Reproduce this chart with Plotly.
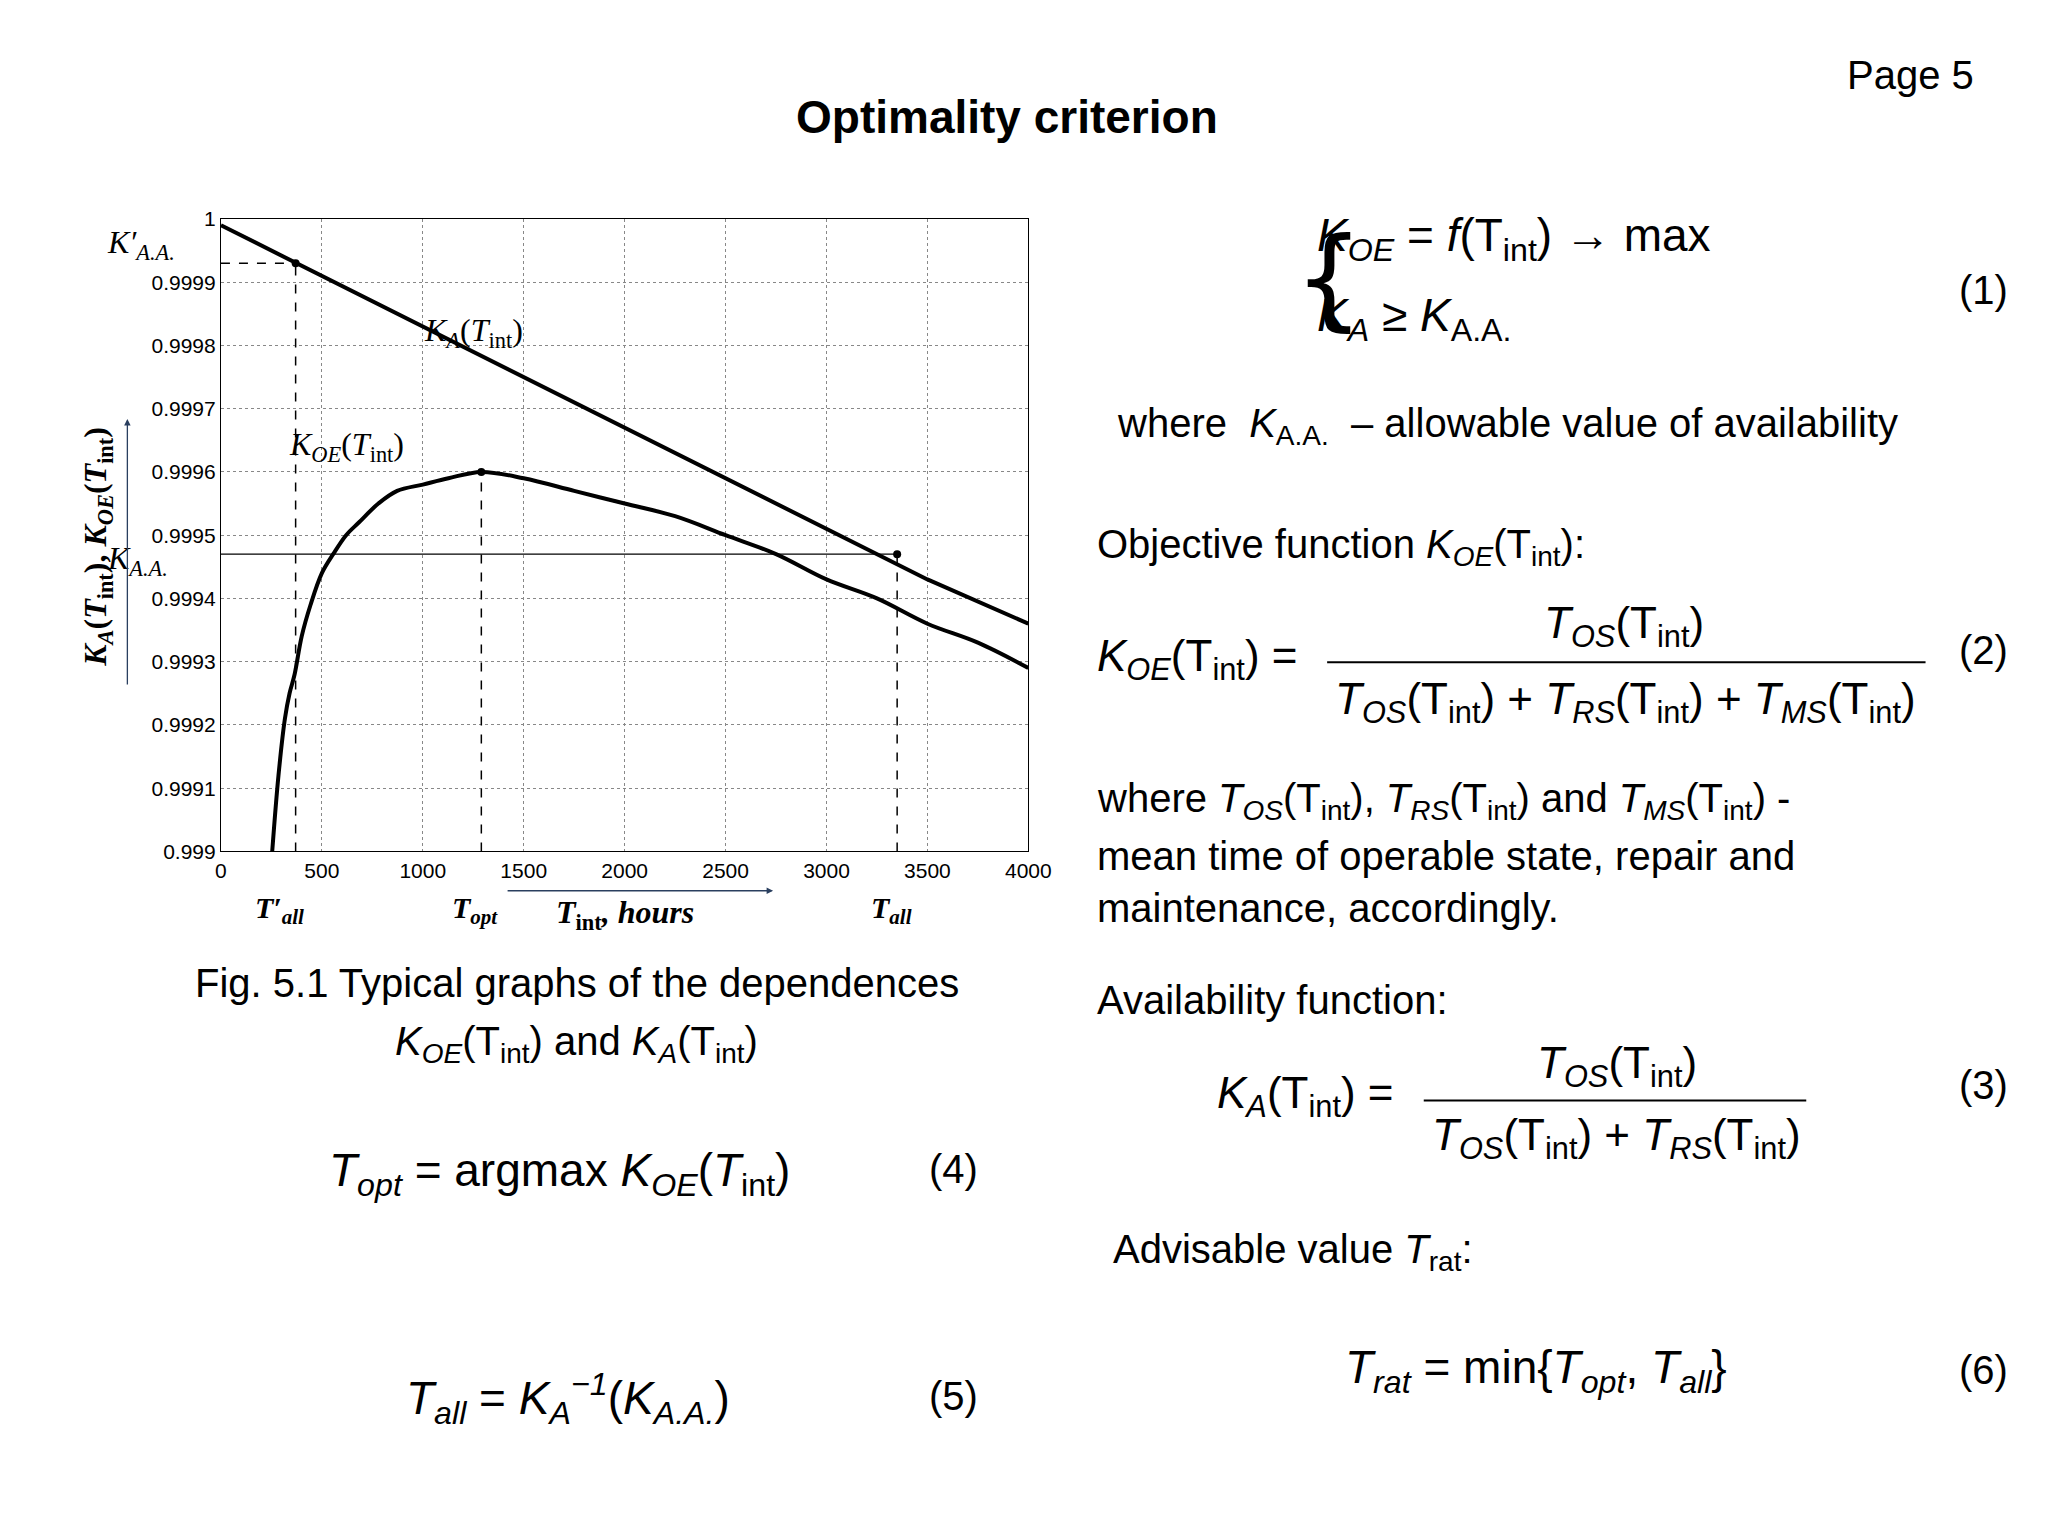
import plotly.graph_objects as go

t_ka = [0, 500, 1000, 1500, 2000, 2500, 3000, 3500, 4000]
ka = [0.99999, 0.99991, 0.99983, 0.99975, 0.99967, 0.99959, 0.99951, 0.99943, 0.99936]
t_koe = [254, 285, 317, 340, 365, 400, 444, 500, 556, 620, 683, 780, 873, 1000, 1127, 1290,
         1500, 1750, 2000, 2250, 2500, 2750, 3000, 3250, 3500, 3750, 4000]
koe = [0.99900, 0.99912, 0.99921, 0.99925, 0.99928, 0.99934, 0.99939, 0.99944, 0.99947, 0.99950,
       0.99952, 0.99955, 0.99957, 0.99958, 0.99959, 0.99960,
       0.99959, 0.99957, 0.99955, 0.99953, 0.99950, 0.99947, 0.99943, 0.99940, 0.99936, 0.99933, 0.99929]
x_ticks = [0, 500, 1000, 1500, 2000, 2500, 3000, 3500, 4000]
y_ticks = [0.999, 0.9991, 0.9992, 0.9993, 0.9994, 0.9995, 0.9996, 0.9997, 0.9998, 0.9999, 1.0]
y_labels = ["0.999", "0.9991", "0.9992", "0.9993", "0.9994", "0.9995", "0.9996", "0.9997", "0.9998", "0.9999", "1"]
t_all_p, k_aa_p = 370, 0.99993
t_opt, k_opt = 1290, 0.99960
t_all, k_aa = 3350, 0.99947

fig = go.Figure()
fig.add_trace(go.Scatter(x=t_ka, y=ka, mode="lines", line=dict(color="black", width=4), showlegend=False))
fig.add_trace(go.Scatter(x=t_koe, y=koe, mode="lines", line=dict(color="black", width=4, shape="spline"), showlegend=False))
fig.add_trace(go.Scatter(x=[t_all_p, t_opt, t_all], y=[k_aa_p, k_opt, k_aa], mode="markers",
                         marker=dict(color="black", size=8), showlegend=False))

def ln(x0, y0, x1, y1, dash="dash", w=1.5, xref="x", yref="y"):
    fig.add_shape(type="line", x0=x0, y0=y0, x1=x1, y1=y1, xref=xref, yref=yref,
                  line=dict(color="black", width=w, dash=dash))

ln(t_all_p, 0.999, t_all_p, k_aa_p)
ln(0, k_aa_p, t_all_p, k_aa_p)
ln(t_opt, 0.999, t_opt, k_opt)
ln(t_all, 0.999, t_all, k_aa)
ln(0, k_aa, t_all, k_aa, dash="solid", w=1.2)

fig.update_xaxes(range=[0, 4000], tickvals=x_ticks, showgrid=True, gridcolor="#888", griddash="dot",
                 showline=True, linecolor="black", mirror=True, zeroline=False,
                 tickfont=dict(family="Liberation Sans", size=21, color="black"), ticks="",
                 domain=[0.1025, 0.5024])
fig.update_yaxes(range=[0.999, 1.0], tickvals=y_ticks, ticktext=y_labels, showgrid=True, gridcolor="#888",
                 griddash="dot", showline=True, linecolor="black", mirror=True, zeroline=False,
                 tickfont=dict(family="Liberation Sans", size=21, color="black"), ticks="",
                 domain=[0.4505, 0.8685])

ann = []
def A(x, y, text, size=38, xa="left", xref="paper", yref="paper", font="Liberation Sans", angle=0, ya="middle"):
    ann.append(dict(x=x, y=y, xref=xref, yref=yref, text=text, showarrow=False, xanchor=xa, yanchor=ya,
                    textangle=angle, font=dict(family=font, size=size, color="black")))
def P(px, py):
    return px / 2048, 1 - py / 1536

S = "Liberation Serif"
A(1250, 0.99982, "<i>K<sub>A</sub></i>(<i>T</i><sub>int</sub>)", 32, "center", "x", "y", S)
A(620, 0.99964, "<i>K<sub>OE</sub></i>(<i>T</i><sub>int</sub>)", 32, "center", "x", "y", S)
A(0.045, k_aa_p + 0.00003, "<i>K′<sub>A.A.</sub></i>", 32, "left", "paper", "y", S)
A(0.045, k_aa - 0.00001, "<i>K<sub>A.A.</sub></i>", 32, "left", "paper", "y", S)
A(t_all_p - 80, 0.412, "<b><i>T′<sub>all</sub></i></b>", 30, "center", "x", "paper", S)
A(t_opt - 30, 0.412, "<b><i>T<sub>opt</sub></i></b>", 30, "center", "x", "paper", S)
A(t_all - 30, 0.412, "<b><i>T<sub>all</sub></i></b>", 30, "center", "x", "paper", S)
x, y = P(620, 908); A(x, y, "<b><i>T</i><sub>int</sub><i>, hours</i></b>", 32, "center", font=S)
x, y = P(85, 535); A(x, y, "<b><i>K<sub>A</sub></i>(<i>T</i><sub>int</sub>), <i>K<sub>OE</sub></i>(<i>T</i><sub>int</sub>)</b>", 32, "center", font=S, angle=-90)
ann.append(dict(x=770 / 2048, y=1 - 884 / 1536, xref="paper", yref="paper", ax=-267, ay=0,
                text="", showarrow=True, arrowhead=2, arrowwidth=1.3))
ann.append(dict(x=115 / 2048, y=1 - 405 / 1536, xref="paper", yref="paper", ax=0, ay=267,
                text="", showarrow=True, arrowhead=2, arrowwidth=1.3))

x, y = P(1007, 98); A(x, y, "<b>Optimality criterion</b>", 46, "center")
x, y = P(1990, 56); A(x, y, "Page 5", 40, "right")
x, y = P(1320, 222); A(x, y, "<i>K<sub>OE</sub></i> = <i>f</i>(T<sub>int</sub>) → max", 46)
x, y = P(1320, 303); A(x, y, "<i>K<sub>A</sub></i> ≥ <i>K</i><sub>A.A.</sub>", 46)
x, y = P(1296, 262); A(x, y, "{", 110, font="DejaVu Sans")
x, y = P(2025, 274); A(x, y, "(1)", 40, "right")
x, y = P(1117, 412); A(x, y, "where  <i>K</i><sub>A.A.</sub>  – allowable value of availability", 40)
x, y = P(1097, 535); A(x, y, "Objective function <i>K<sub>OE</sub></i>(T<sub>int</sub>):", 40)
x, y = P(1097, 649); A(x, y, "<i>K<sub>OE</sub></i>(T<sub>int</sub>) =", 44)
x, y = P(1633, 615); A(x, y, "<i>T<sub>OS</sub></i>(T<sub>int</sub>)", 44, "center")
x, y = P(1635, 692); A(x, y, "<i>T<sub>OS</sub></i>(T<sub>int</sub>) + <i>T<sub>RS</sub></i>(T<sub>int</sub>) + <i>T<sub>MS</sub></i>(T<sub>int</sub>)", 44, "center")
x, y = P(2025, 640); A(x, y, "(2)", 40, "right")
ln(1332 / 2048, 1 - 652 / 1536, 1939 / 2048, 1 - 652 / 1536, "solid", 2, "paper", "paper")
x, y = P(1097, 793); A(x, y, "where <i>T<sub>OS</sub></i>(T<sub>int</sub>), <i>T<sub>RS</sub></i>(T<sub>int</sub>) and <i>T<sub>MS</sub></i>(T<sub>int</sub>) -", 40)
x, y = P(1097, 849); A(x, y, "mean time of operable state, repair and", 40)
x, y = P(1097, 902); A(x, y, "maintenance, accordingly.", 40)
x, y = P(1097, 995); A(x, y, "Availability function:", 40)
x, y = P(1218, 1092); A(x, y, "<i>K<sub>A</sub></i>(T<sub>int</sub>) =", 44)
x, y = P(1626, 1062); A(x, y, "<i>T<sub>OS</sub></i>(T<sub>int</sub>)", 44, "center")
x, y = P(1626, 1135); A(x, y, "<i>T<sub>OS</sub></i>(T<sub>int</sub>) + <i>T<sub>RS</sub></i>(T<sub>int</sub>)", 44, "center")
ln(1430 / 2048, 1 - 1097 / 1536, 1818 / 2048, 1 - 1097 / 1536, "solid", 2, "paper", "paper")
x, y = P(2025, 1081); A(x, y, "(3)", 40, "right")
x, y = P(1113, 1251); A(x, y, "Advisable value <i>T</i><sub>rat</sub>:", 40)
x, y = P(1348, 1371); A(x, y, "<i>T<sub>rat</sub></i> = min{<i>T<sub>opt</sub></i>, <i>T<sub>all</sub></i>}", 46)
x, y = P(2025, 1371); A(x, y, "(6)", 40, "right")
x, y = P(571, 978); A(x, y, "Fig. 5.1 Typical graphs of the dependences", 40, "center")
x, y = P(571, 1040); A(x, y, "<i>K<sub>OE</sub></i>(T<sub>int</sub>) and <i>K<sub>A</sub></i>(T<sub>int</sub>)", 40, "center")
x, y = P(317, 1171); A(x, y, "<i>T<sub>opt</sub></i> = argmax <i>K<sub>OE</sub></i>(<i>T</i><sub>int</sub>)", 46)
x, y = P(980, 1166); A(x, y, "(4)", 40, "right")
x, y = P(396, 1399); A(x, y, "<i>T<sub>all</sub></i> = <i>K<sub>A</sub><sup>−1</sup></i>(<i>K<sub>A.A.</sub></i>)", 46)
x, y = P(980, 1397); A(x, y, "(5)", 40, "right")

fig.update_layout(width=2048, height=1536, margin=dict(l=0, r=0, t=0, b=0),
                  plot_bgcolor="white", paper_bgcolor="white", annotations=ann)
fig.write_html("out.html")
